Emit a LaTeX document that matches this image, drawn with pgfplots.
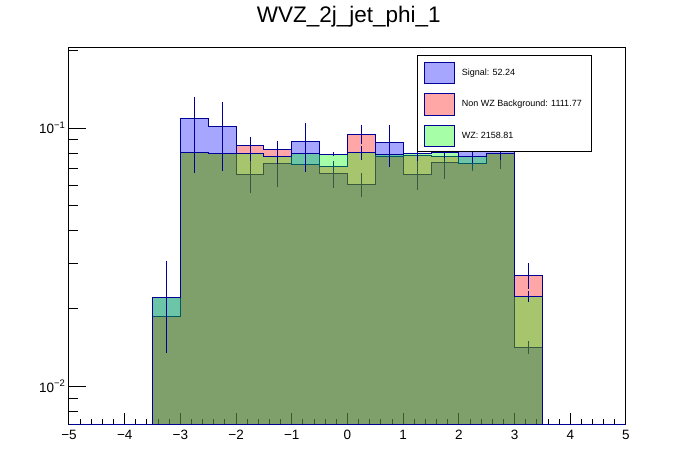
\documentclass[border=0pt]{standalone}
\usepackage{fontspec}
\setmainfont{Liberation Sans}
\usepackage{pgfplots}
\pgfplotsset{compat=1.18}
\definecolor{rootline}{RGB}{0,0,153}
\begin{document}
\begin{tikzpicture}
\path[use as bounding box] (0pt,0pt) rectangle (696pt,472pt);
\node[anchor=base, font=\fontsize{22.5}{27}\selectfont, inner sep=0pt] at (348.7pt,449.3pt) {WVZ\_2j\_jet\_phi\_1};
\begin{axis}[
  at={(69pt,48pt)}, anchor=south west,
  scale only axis, width=557pt, height=376.7pt,
  xmin=-5, xmax=5, ymode=log, ymin=0.00715, ymax=0.2053,
  axis line style={line width=1pt, black},
  tick pos=left, tick align=inside,
  xtick={-5,-4,-3,-2,-1,0,1,2,3,4,5},
  xticklabels={−5,−4,−3,−2,−1,0,1,2,3,4,5},
  minor x tick num=4,
  ytick={0.01,0.1},
  yticklabels={10\textsuperscript{−2},10\textsuperscript{−1}},
  minor ytick={0.008,0.009,0.02,0.03,0.04,0.05,0.06,0.07,0.08,0.09,0.2},
  major tick length=11pt, minor tick length=5.5pt,
  major y tick style={/pgfplots/major tick length=17pt},
  minor y tick style={/pgfplots/minor tick length=8.5pt},
  every tick/.style={black, line width=1pt},
  tick label style={font=\fontsize{13.5}{16}\selectfont},
  xticklabel style={yshift=-2.5pt},
  legend style={draw=none, fill=none, at={(rel axis cs:0.6373,0.9628)}, anchor=north west,
    inner sep=0pt, row sep=8.9pt, column sep=6.4pt,
    nodes={inner sep=0pt, anchor=west}, font=\fontsize{9}{11}\selectfont},
  legend cell align=left,
]
% Signal
\addplot[const plot, draw=rootline, line width=1pt, fill=blue, fill opacity=0.35,
  legend image code/.code={\draw[rootline, line width=1pt, fill=blue, fill opacity=0.35] (0pt,-10.85pt) rectangle (30.3pt,10.85pt);}]
coordinates {(-5,0.00715) (-3.5,0.0220) (-3,0.109) (-2.5,0.1015) (-2,0.0662) (-1.5,0.0732) (-1,0.0888) (-0.5,0.0668) (0,0.0605) (0.5,0.0875) (1,0.0662) (1.5,0.0737) (2,0.0840) (2.5,0.0815) (3,0.01416) (3.5,0.00715) (5,0.00715)} -- cycle;
\addlegendentry{Signal: 52.24}
\addplot[forget plot, draw=none, mark=none,
  error bars/.cd, y dir=both, y explicit, error mark=none,
  error bar style={draw=rootline, line width=1pt}]
coordinates {(-3.25,0.0220) +- (0,0.006) (-2.75,0.109) +- (0,0.023) (-2.25,0.1015) +- (0,0.0245) (-1.75,0.0662) +- (0,0.010) (-1.25,0.0732) +- (0,0.014) (-0.75,0.0888) +- (0,0.0157) (-0.25,0.0668) +- (0,0.008) (0.25,0.0605) +- (0,0.0063) (0.75,0.0875) +- (0,0.0155) (1.25,0.0662) +- (0,0.0087) (1.75,0.0737) +- (0,0.0104) (2.25,0.0840) +- (0,0.016) (2.75,0.0815) +- (0,0.012) (3.25,0.01416) +- (0,0.0008)};
% Non WZ background
\addplot[const plot, draw=rootline, line width=1pt, fill=red, fill opacity=0.35,
  legend image code/.code={\draw[rootline, line width=1pt, fill=red, fill opacity=0.35] (0pt,-10.85pt) rectangle (30.3pt,10.85pt);}]
coordinates {(-5,0.00715) (-3.5,0.0187) (-3,0.0805) (-2.5,0.0800) (-2,0.0857) (-1.5,0.0827) (-1,0.0724) (-0.5,0.0711) (0,0.0948) (0.5,0.0777) (1,0.0784) (1.5,0.0774) (2,0.0732) (2.5,0.0795) (3,0.0269) (3.5,0.00715) (5,0.00715)} -- cycle;
\addlegendentry{Non WZ Background: 1111.77}
\addplot[forget plot, draw=none, mark=none,
  error bars/.cd, y dir=both, y explicit, error mark=none,
  error bar style={draw=rootline, line width=1pt}]
coordinates {(-3.25,0.0187) +- (0,0.002) (-2.75,0.0805) +- (0,0.005) (-2.25,0.0800) +- (0,0.005) (-1.75,0.0857) +- (0,0.0066) (-1.25,0.0827) +- (0,0.0064) (-0.75,0.0724) +- (0,0.004) (-0.25,0.0711) +- (0,0.003) (0.25,0.0948) +- (0,0.0082) (0.75,0.0777) +- (0,0.004) (1.25,0.0784) +- (0,0.004) (1.75,0.0774) +- (0,0.004) (2.25,0.0732) +- (0,0.004) (2.75,0.0795) +- (0,0.004) (3.25,0.0269) +- (0,0.003)};
% WZ
\addplot[const plot, draw=rootline, line width=1pt, fill=green, fill opacity=0.35,
  legend image code/.code={\draw[rootline, line width=1pt, fill=green, fill opacity=0.35] (0pt,-10.85pt) rectangle (30.3pt,10.85pt);}]
coordinates {(-5,0.00715) (-3.5,0.0220) (-3,0.0805) (-2.5,0.0800) (-2,0.0795) (-1.5,0.0777) (-1,0.0798) (-0.5,0.0791) (0,0.0805) (0.5,0.0793) (1,0.0798) (1.5,0.0805) (2,0.0774) (2.5,0.0795) (3,0.0223) (3.5,0.00715) (5,0.00715)} -- cycle;
\addlegendentry{WZ: 2158.81}
\addplot[forget plot, draw=none, mark=none,
  error bars/.cd, y dir=both, y explicit, error mark=none,
  error bar style={draw=rootline, line width=1pt}]
coordinates {(-3.25,0.0220) +- (0,0.0085) (-2.75,0.0805) +- (0,0.0135) (-2.25,0.0800) +- (0,0.012) (-1.75,0.0795) +- (0,0.005) (-1.25,0.0777) +- (0,0.005) (-0.75,0.0798) +- (0,0.012) (-0.25,0.0791) +- (0,0.0015) (0.25,0.0805) +- (0,0.005) (0.75,0.0793) +- (0,0.0085) (1.25,0.0798) +- (0,0.005) (1.75,0.0805) +- (0,0.004) (2.25,0.0774) +- (0,0.004) (2.75,0.0795) +- (0,0.004) (3.25,0.0223) +- (0,0.001)};
% legend frame
\draw[black, line width=1pt, fill=white] (rel axis cs:0.6253,0.977) rectangle (rel axis cs:0.9384,0.7247);
\end{axis}
\end{tikzpicture}
\end{document}
